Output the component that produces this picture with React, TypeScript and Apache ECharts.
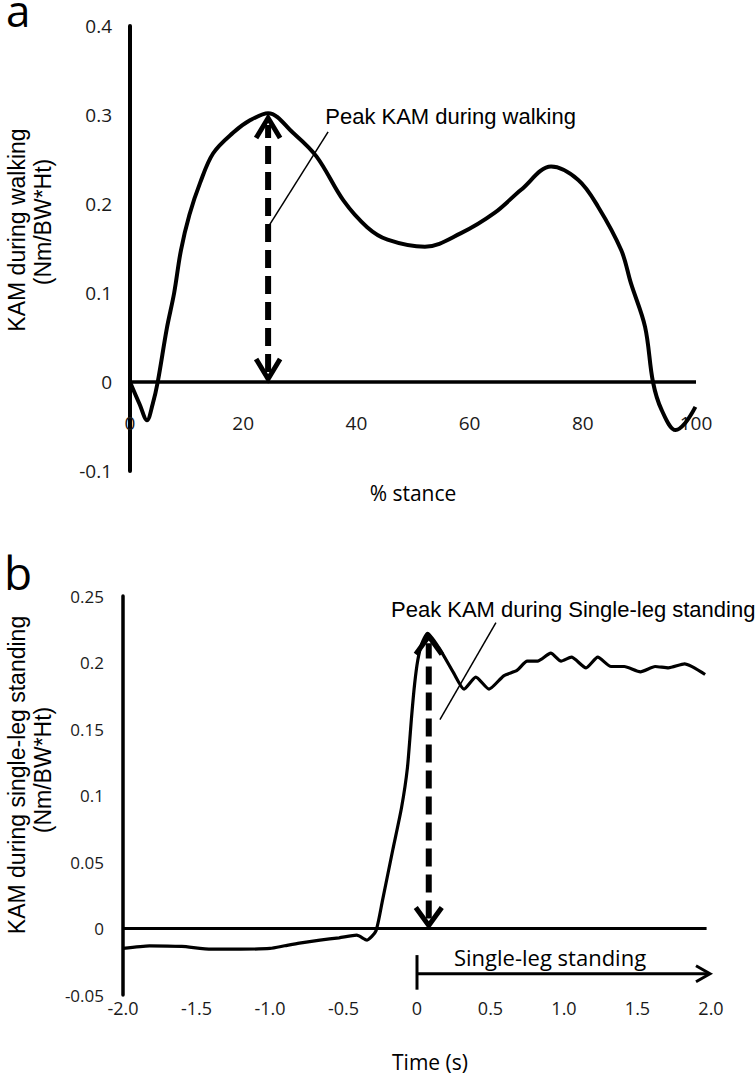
import React, { useEffect, useRef } from "react";
import * as echarts from "echarts";

// ---- Panel a: KAM during walking ----
const walkStance = [0, 1.7, 3.0, 4.0, 4.9, 6.5, 7.8, 9.0, 10.5, 12.4, 14.7, 18.2, 21.2, 24.4, 28.8, 33.0, 37.7, 41.9, 45.5, 52.1, 58.4, 64.4, 69.1, 74.4, 79.2, 82.7, 86.8, 88.5, 91.0, 92.4, 93.9, 96.4, 98.1, 99.9];
const walkKAM = [0, -0.025, -0.043, -0.025, 0, 0.06, 0.1, 0.148, 0.188, 0.224, 0.257, 0.28, 0.294, 0.302, 0.28, 0.253, 0.204, 0.174, 0.16, 0.152, 0.167, 0.19, 0.216, 0.242, 0.227, 0.197, 0.148, 0.111, 0.062, 0, -0.031, -0.054, -0.046, -0.028];
const walkXTicks = { min: 0, max: 100, interval: 20 };
const walkYTicks = { min: -0.1, max: 0.4, interval: 0.1 };
const walkPeakArrow = [[24.4, 0, 0.3]];
const walkLeader = [[24.4, 0.174], [35.0, 0.281]];
const walkLabelAnchor = [[34.5, 0.298]];
const walkLabel = "Peak KAM during walking";

// ---- Panel b: KAM during single-leg standing ----
const standTime = [-2.0, -1.82, -1.6, -1.4, -1.2, -1.0, -0.9, -0.8, -0.66, -0.53, -0.41, -0.34, -0.28, -0.235, -0.165, -0.105, -0.065, -0.037, -0.016, 0.005, 0.032, 0.072, 0.15, 0.25, 0.32, 0.4, 0.49, 0.59, 0.68, 0.75, 0.82, 0.91, 0.98, 1.05, 1.15, 1.23, 1.32, 1.41, 1.52, 1.62, 1.71, 1.82, 1.96];
const standKAM = [-0.015, -0.013, -0.0135, -0.0155, -0.0155, -0.015, -0.013, -0.011, -0.0087, -0.007, -0.005, -0.0087, -0.002, 0.021, 0.059, 0.091, 0.121, 0.159, 0.184, 0.2015, 0.214, 0.222, 0.211, 0.192, 0.18, 0.189, 0.18, 0.19, 0.194, 0.201, 0.201, 0.207, 0.201, 0.204, 0.196, 0.204, 0.197, 0.197, 0.193, 0.197, 0.196, 0.199, 0.191];
const standXTicks = { min: -2, max: 2, interval: 0.5 };
const standYTicks = { min: -0.05, max: 0.25, interval: 0.05 };
const standPeakArrow = [[0.08, 0, 0.222]];
const standLeader = [[0.156, 0.157], [0.537, 0.23]];
const standLabelAnchor = [[-0.177, 0.2395]];
const standLabel = "Peak KAM during Single-leg standing";
const standPhase = [[0, 2.0, -0.02, -0.046, -0.034]];
const standPhaseLabelAnchor = [[0.905, -0.0215]];
const standPhaseLabel = "Single-leg standing";

const TICK_FONT = "'Open Sans', sans-serif";
const ARIAL = "'Liberation Sans', Arial, sans-serif";

function doubleArrow(hw: number, hh: number) {
  return (params: any, api: any) => {
    const x = api.value(0);
    const b = api.coord([x, api.value(1)]);
    const t = api.coord([x, api.value(2)]);
    const s = { stroke: "#000", lineWidth: 5, fill: "none", lineJoin: "miter" };
    return {
      type: "group",
      children: [
        { type: "line", shape: { x1: b[0], y1: b[1] - 10, x2: t[0], y2: t[1] + 10 }, style: { stroke: "#000", lineWidth: 6, lineDash: [18, 8] } },
        { type: "polyline", shape: { points: [[b[0] - hw, b[1] - hh - 3], [b[0], b[1] - 3], [b[0] + hw, b[1] - hh - 3]] }, style: s },
        { type: "polyline", shape: { points: [[t[0] - hw, t[1] + hh + 3], [t[0], t[1] + 3], [t[0] + hw, t[1] + hh + 3]] }, style: s },
      ],
    };
  };
}

function textAt(text: string, size: number, family: string, align: string) {
  return (params: any, api: any) => {
    const p = api.coord([api.value(0), api.value(1)]);
    return {
      type: "text",
      x: p[0],
      y: p[1],
      style: { text, fill: "#000", fontSize: size, fontFamily: family, align, verticalAlign: "middle" },
    };
  };
}

function phaseBracket(params: any, api: any) {
  const x0 = api.value(0);
  const x1 = api.value(1);
  const top = api.coord([x0, api.value(2)]);
  const bot = api.coord([x0, api.value(3)]);
  const a = api.coord([x0, api.value(4)]);
  const e = api.coord([x1, api.value(4)]);
  const s = { stroke: "#000", lineWidth: 3, fill: "none" };
  return {
    type: "group",
    children: [
      { type: "line", shape: { x1: top[0], y1: top[1], x2: bot[0], y2: bot[1] }, style: s },
      { type: "line", shape: { x1: a[0], y1: a[1], x2: e[0] - 2, y2: e[1] }, style: s },
      { type: "polyline", shape: { points: [[e[0] - 15, e[1] - 8], [e[0] - 1, e[1]], [e[0] - 15, e[1] + 8]] }, style: s },
    ],
  };
}

export default function App() {
  const ref = useRef<HTMLDivElement>(null);
  useEffect(() => {
    if (!ref.current) return;
    const chart = echarts.init(ref.current, null, { renderer: "svg" });
    const walkData = walkStance.map((x, i) => [x, walkKAM[i]]);
    const standData = standTime.map((x, i) => [x, standKAM[i]]);
    const lbl = { color: "#1a1a1a", fontFamily: TICK_FONT };
    chart.setOption({
      animation: false,
      backgroundColor: "#fff",
      grid: [
        { left: 130, top: 26, width: 566, height: 445 },
        { left: 123, top: 596, width: 588, height: 399 },
      ],
      xAxis: [
        {
          type: "value", gridIndex: 0, ...walkXTicks,
          axisLine: { show: false, onZero: false },
          axisTick: { show: false }, splitLine: { show: false },
          axisLabel: { ...lbl, fontSize: 19, margin: -58 },
        },
        {
          type: "value", gridIndex: 1, ...standXTicks,
          axisLine: { show: false, onZero: false },
          axisTick: { show: false }, splitLine: { show: false },
          axisLabel: { ...lbl, fontSize: 18, margin: 4, formatter: (v: number) => (v === 0 ? "0" : v.toFixed(1)) },
        },
      ],
      yAxis: [
        {
          type: "value", gridIndex: 0, ...walkYTicks,
          axisLine: { show: true, onZero: false, lineStyle: { color: "#000", width: 4 } },
          axisTick: { show: false }, splitLine: { show: false },
          axisLabel: { ...lbl, fontSize: 19, margin: 18 },
        },
        {
          type: "value", gridIndex: 1, ...standYTicks,
          axisLine: { show: true, onZero: false, lineStyle: { color: "#000", width: 3.5 } },
          axisTick: { show: false }, splitLine: { show: false },
          axisLabel: { ...lbl, fontSize: 17, margin: 19 },
        },
      ],
      graphic: [
        { type: "text", x: 6, y: 10, style: { text: "a", fontSize: 44, fontFamily: TICK_FONT, fill: "#000", align: "left", verticalAlign: "middle" } },
        { type: "text", x: 4, y: 572, style: { text: "b", fontSize: 46, fontFamily: TICK_FONT, fill: "#000", align: "left", verticalAlign: "middle" } },
        { type: "text", x: 17, y: 230, rotation: Math.PI / 2, style: { text: "KAM during walking", fontSize: 23, fontFamily: ARIAL, fill: "#000", align: "center", verticalAlign: "middle" } },
        { type: "text", x: 43, y: 222, rotation: Math.PI / 2, style: { text: "(Nm/BW*Ht)", fontSize: 23, fontFamily: ARIAL, fill: "#000", align: "center", verticalAlign: "middle" } },
        { type: "text", x: 17, y: 775, rotation: Math.PI / 2, style: { text: "KAM during single-leg standing", fontSize: 23, fontFamily: ARIAL, fill: "#000", align: "center", verticalAlign: "middle" } },
        { type: "text", x: 43, y: 770, rotation: Math.PI / 2, style: { text: "(Nm/BW*Ht)", fontSize: 23, fontFamily: ARIAL, fill: "#000", align: "center", verticalAlign: "middle" } },
        { type: "text", x: 413, y: 493, style: { text: "% stance", fontSize: 21, fontFamily: TICK_FONT, fill: "#000", align: "center", verticalAlign: "middle" } },
        { type: "text", x: 430, y: 1062, style: { text: "Time (s)", fontSize: 21, fontFamily: TICK_FONT, fill: "#000", align: "center", verticalAlign: "middle" } },
      ],
      series: [
        {
          name: "KAM walking", type: "line", xAxisIndex: 0, yAxisIndex: 0, data: walkData,
          smooth: 0.35, showSymbol: false, silent: true, z: 3,
          lineStyle: { color: "#000", width: 4 },
          markLine: {
            silent: true, symbol: "none", label: { show: false },
            lineStyle: { color: "#000", width: 3.5, type: "solid" },
            data: [[{ coord: [0, 0] }, { coord: [100, 0] }]],
          },
        },
        {
          name: "walk peak arrow", type: "custom", xAxisIndex: 0, yAxisIndex: 0, data: walkPeakArrow,
          renderItem: doubleArrow(12, 20), silent: true, z: 4,
        },
        {
          name: "walk leader", type: "line", xAxisIndex: 0, yAxisIndex: 0, data: walkLeader,
          showSymbol: false, silent: true, lineStyle: { color: "#000", width: 1.5 }, z: 4,
        },
        {
          name: "walk label", type: "custom", xAxisIndex: 0, yAxisIndex: 0, data: walkLabelAnchor,
          renderItem: textAt(walkLabel, 22, ARIAL, "left"), silent: true, z: 5,
        },
        {
          name: "KAM standing", type: "line", xAxisIndex: 1, yAxisIndex: 1, data: standData,
          smooth: 0.2, showSymbol: false, silent: true, z: 3,
          lineStyle: { color: "#000", width: 3.2 },
          markLine: {
            silent: true, symbol: "none", label: { show: false },
            lineStyle: { color: "#000", width: 3.2, type: "solid" },
            data: [[{ coord: [-2, 0] }, { coord: [1.97, 0] }]],
          },
        },
        {
          name: "stand peak arrow", type: "custom", xAxisIndex: 1, yAxisIndex: 1, data: standPeakArrow,
          renderItem: doubleArrow(13, 18), silent: true, z: 4,
        },
        {
          name: "stand leader", type: "line", xAxisIndex: 1, yAxisIndex: 1, data: standLeader,
          showSymbol: false, silent: true, lineStyle: { color: "#000", width: 1.5 }, z: 4,
        },
        {
          name: "stand label", type: "custom", xAxisIndex: 1, yAxisIndex: 1, data: standLabelAnchor,
          renderItem: textAt(standLabel, 22, ARIAL, "left"), silent: true, z: 5,
        },
        {
          name: "phase bracket", type: "custom", xAxisIndex: 1, yAxisIndex: 1, data: standPhase,
          renderItem: phaseBracket, silent: true, z: 4,
        },
        {
          name: "phase label", type: "custom", xAxisIndex: 1, yAxisIndex: 1, data: standPhaseLabelAnchor,
          renderItem: textAt(standPhaseLabel, 22, TICK_FONT, "center"), silent: true, z: 5,
        },
      ],
    });
    return () => chart.dispose();
  }, []);
  return <div ref={ref} style={{ position: "absolute", left: 0, top: 0, width: 756, height: 1080 }} />;
}
